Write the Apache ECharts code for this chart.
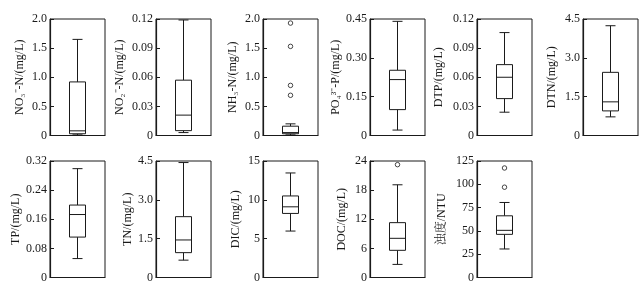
<!DOCTYPE html>
<html>
<head>
<meta charset="utf-8">
<script src="https://cdn.jsdelivr.net/npm/echarts@6/dist/echarts.min.js"></script>
<style>html,body{margin:0;padding:0;background:#fff}#c{width:644px;height:290px}</style>
</head>
<body>
<div id="c"></div>
<script>
// ---- data ----
const names = ['NO₃⁻-N/(mg/L)', 'NO₂⁻-N/(mg/L)', 'NH₃-N/(mg/L)', 'PO₄³⁻-P/(mg/L)', 'DTP/(mg/L)', 'DTN/(mg/L)',
               'TP/(mg/L)', 'TN/(mg/L)', 'DIC/(mg/L)', 'DOC/(mg/L)', '浊度/NTU'];
const axisMax = [2.0, 0.12, 2.0, 0.45, 0.12, 4.5, 0.32, 4.5, 15, 24, 125];
const axisInterval = [0.5, 0.03, 0.5, 0.15, 0.03, 1.5, 0.08, 1.5, 5, 6, 25];
const tickDecimals = [1, 2, 1, 2, 2, 1, 2, 1, 0, 0, 0];
// [min, Q1, median, Q3, max]
const boxStats = [
  [0.01, 0.03, 0.08, 0.92, 1.65],
  [0.003, 0.005, 0.021, 0.057, 0.119],
  [0.01, 0.03, 0.05, 0.16, 0.20],
  [0.021, 0.10, 0.216, 0.252, 0.441],
  [0.024, 0.038, 0.060, 0.073, 0.106],
  [0.72, 0.95, 1.30, 2.44, 4.24],
  [0.052, 0.111, 0.173, 0.199, 0.299],
  [0.67, 0.96, 1.45, 2.35, 4.44],
  [5.98, 8.25, 9.1, 10.5, 13.46],
  [2.7, 5.6, 8.07, 11.3, 19.1],
  [30.6, 46.3, 50.6, 66.2, 80.5]
];
const outliers = [[], [], [1.93, 1.53, 0.86, 0.69], [], [], [], [], [], [], [23.25], [117.5, 96.9]];

// ---- layout ----
const colLefts = [50, 156, 263, 370, 477, 583];
const rowTops = [19, 161];
const gridW = 55, gridH = 116.5;
const nameGaps = [24, 30, 24, 28, 32, 25, 23, 21, 21, 22, 29];
const ink = '#1a1a1a';
const font = '"Liberation Serif","Times New Roman","Noto Serif CJK SC","Noto Sans CJK SC",serif';

const grids = [], xAxes = [], yAxes = [], series = [];
names.forEach((nm, i) => {
  const r = Math.floor(i / 6), c = i % 6;
  grids.push({left: colLefts[c], top: rowTops[r], width: gridW, height: gridH,
    show: true, borderColor: ink, borderWidth: 1, backgroundColor: 'transparent'});
  xAxes.push({type: 'category', gridIndex: i, data: ['a'],
    axisLine: {show: true, lineStyle: {color: ink, width: 1}}, axisTick: {show: false},
    axisLabel: {show: false}, splitLine: {show: false}});
  yAxes.push({type: 'value', gridIndex: i, min: 0, max: axisMax[i], interval: axisInterval[i],
    name: nm, nameLocation: 'middle', nameRotate: 90, nameGap: nameGaps[i],
    nameTextStyle: {fontFamily: font, fontSize: 12, color: ink},
    axisLine: {show: true, lineStyle: {color: ink, width: 1.2}},
    axisTick: {show: true, inside: true, length: 4, lineStyle: {color: ink}},
    axisLabel: {fontFamily: font, fontSize: 12, color: ink, margin: 3,
      formatter: v => v === 0 ? '0' : v.toFixed(tickDecimals[i])},
    splitLine: {show: false}});
  series.push({type: 'custom', xAxisIndex: i, yAxisIndex: i,
    data: [[0].concat(boxStats[i])],
    renderItem: (params, api) => {
      const x = api.coord([0, 0])[0];
      const y = k => api.coord([0, api.value(k)])[1];
      const yMin = y(1), yQ1 = y(2), yMed = y(3), yQ3 = y(4), yMax = y(5);
      const bw = 8, cw = 5;
      const st = {stroke: ink, lineWidth: 1, fill: null};
      return {type: 'group', children: [
        {type: 'line', shape: {x1: x, y1: yMax, x2: x, y2: yQ3}, style: st},
        {type: 'line', shape: {x1: x, y1: yQ1, x2: x, y2: yMin}, style: st},
        {type: 'line', shape: {x1: x - cw, y1: yMax, x2: x + cw, y2: yMax}, style: st},
        {type: 'line', shape: {x1: x - cw, y1: yMin, x2: x + cw, y2: yMin}, style: st},
        {type: 'rect', shape: {x: x - bw, y: yQ3, width: 2 * bw, height: yQ1 - yQ3}, style: {stroke: ink, lineWidth: 1, fill: '#fff'}},
        {type: 'line', shape: {x1: x - bw, y1: yMed, x2: x + bw, y2: yMed}, style: st}
      ]};
    }, silent: true, animation: false});
  if (outliers[i].length) {
    series.push({type: 'scatter', xAxisIndex: i, yAxisIndex: i,
      data: outliers[i].map(v => [0, v]), symbol: 'circle', symbolSize: 4.5,
      itemStyle: {color: '#fff', borderColor: ink, borderWidth: 1}, silent: true, animation: false});
  }
});

const chart = echarts.init(document.getElementById('c'), null, {renderer: 'canvas'});
chart.setOption({animation: false, grid: grids, xAxis: xAxes, yAxis: yAxes, series: series});
</script>
</body>
</html>
